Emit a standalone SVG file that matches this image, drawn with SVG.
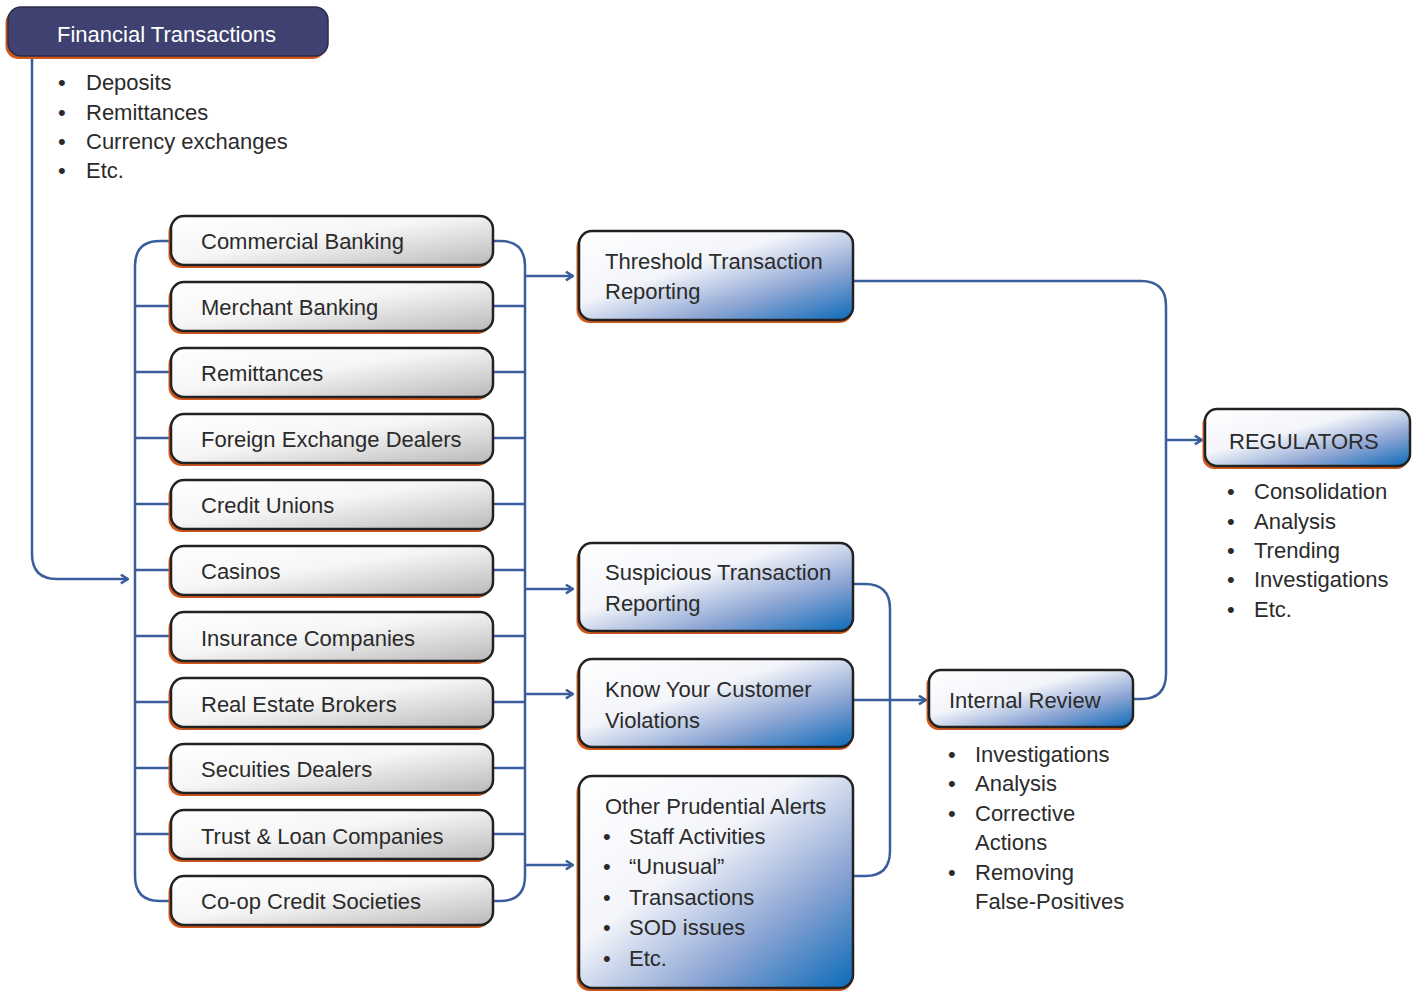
<svg xmlns="http://www.w3.org/2000/svg" width="1416" height="991" viewBox="0 0 1416 991">
<defs>
<linearGradient id="gGray" x1="0" y1="0" x2="1" y2="1">
<stop offset="0" stop-color="#ffffff"/>
<stop offset="0.45" stop-color="#f6f6f6"/>
<stop offset="1" stop-color="#b9b9bb"/>
</linearGradient>
<linearGradient id="gBlue" x1="0" y1="0" x2="1" y2="1">
<stop offset="0" stop-color="#ffffff"/>
<stop offset="0.4" stop-color="#f3f5fa"/>
<stop offset="0.7" stop-color="#8ea6d4"/>
<stop offset="1" stop-color="#0b6ab8"/>
</linearGradient>
<marker id="arr" viewBox="0 0 10 10" refX="9" refY="5" markerWidth="11" markerHeight="11" markerUnits="userSpaceOnUse" orient="auto">
<path d="M2.5,1 L9,5 L2.5,9" fill="none" stroke="#3a5e9c" stroke-width="2.2"/>
</marker>
</defs>
<style>
.sh{fill:#d2581c}
.gb{fill:url(#gGray);stroke:#222;stroke-width:2.5}
.bb{fill:url(#gBlue);stroke:#222;stroke-width:2.5}
.t{font-family:"Liberation Sans",Arial,sans-serif;font-size:22px;fill:#2b2b2b}
.tw{font-family:"Liberation Sans",Arial,sans-serif;font-size:22px;fill:#ffffff}
.ln{fill:none;stroke:#3a5e9c;stroke-width:2.5}
</style>
<rect width="1416" height="991" fill="#ffffff"/>

<g id="connectors">
<path class="ln" d="M32,57 V554 Q32,579 57,579 H128" marker-end="url(#arr)"/>
<path class="ln" d="M171,241 H160 Q135,241 135,266 V876 Q135,901 160,901 H171"/>
<path class="ln" d="M135,306 H171 M135,372 H171 M135,438 H171 M135,504 H171 M135,570 H171 M135,636 H171 M135,702 H171 M135,768 H171 M135,834 H171"/>
<path class="ln" d="M493,241 H500 Q525,241 525,266 V876 Q525,901 500,901 H493"/>
<path class="ln" d="M493,306 H525 M493,372 H525 M493,438 H525 M493,504 H525 M493,570 H525 M493,636 H525 M493,702 H525 M493,768 H525 M493,834 H525"/>
<path class="ln" d="M525,276 H573" marker-end="url(#arr)"/>
<path class="ln" d="M525,589 H573" marker-end="url(#arr)"/>
<path class="ln" d="M525,694 H573" marker-end="url(#arr)"/>
<path class="ln" d="M525,865 H573" marker-end="url(#arr)"/>
<path class="ln" d="M853,281 H1141 Q1166,281 1166,306 V674 Q1166,699 1141,699 H1133"/>
<path class="ln" d="M1166,440 H1202" marker-end="url(#arr)"/>
<path class="ln" d="M853,584 H865 Q890,584 890,609 V851 Q890,876 865,876 H853"/>
<path class="ln" d="M853,700 H926" marker-end="url(#arr)"/>
</g>

<g id="financial-transactions">
<rect class="sh" x="5.5" y="10" width="320" height="49" rx="13"/>
<rect x="8" y="7" width="320" height="49" rx="13" fill="#3f4270" stroke="#2a2c4a" stroke-width="1.5"/>
<text class="tw" x="57" y="42">Financial Transactions</text>
</g>
<g id="ft-list">
<text class="t" x="58" y="90">•</text><text class="t" x="86" y="90">Deposits</text>
<text class="t" x="58" y="120">•</text><text class="t" x="86" y="120">Remittances</text>
<text class="t" x="58" y="149">•</text><text class="t" x="86" y="149">Currency exchanges</text>
<text class="t" x="58" y="178">•</text><text class="t" x="86" y="178">Etc.</text>
</g>

<g id="commercial-banking"><rect class="sh" x="168.5" y="219" width="322" height="49" rx="13"/><rect class="gb" x="171" y="216" width="322" height="49" rx="13"/><text class="t" x="201" y="249">Commercial Banking</text></g>
<g id="merchant-banking"><rect class="sh" x="168.5" y="285" width="322" height="49" rx="13"/><rect class="gb" x="171" y="282" width="322" height="49" rx="13"/><text class="t" x="201" y="315">Merchant Banking</text></g>
<g id="remittances"><rect class="sh" x="168.5" y="351" width="322" height="49" rx="13"/><rect class="gb" x="171" y="348" width="322" height="49" rx="13"/><text class="t" x="201" y="381">Remittances</text></g>
<g id="foreign-exchange"><rect class="sh" x="168.5" y="417" width="322" height="49" rx="13"/><rect class="gb" x="171" y="414" width="322" height="49" rx="13"/><text class="t" x="201" y="447">Foreign Exchange Dealers</text></g>
<g id="credit-unions"><rect class="sh" x="168.5" y="483" width="322" height="49" rx="13"/><rect class="gb" x="171" y="480" width="322" height="49" rx="13"/><text class="t" x="201" y="513">Credit Unions</text></g>
<g id="casinos"><rect class="sh" x="168.5" y="549" width="322" height="49" rx="13"/><rect class="gb" x="171" y="546" width="322" height="49" rx="13"/><text class="t" x="201" y="579">Casinos</text></g>
<g id="insurance"><rect class="sh" x="168.5" y="615" width="322" height="49" rx="13"/><rect class="gb" x="171" y="612" width="322" height="49" rx="13"/><text class="t" x="201" y="646">Insurance Companies</text></g>
<g id="real-estate"><rect class="sh" x="168.5" y="681" width="322" height="49" rx="13"/><rect class="gb" x="171" y="678" width="322" height="49" rx="13"/><text class="t" x="201" y="712">Real Estate Brokers</text></g>
<g id="securities"><rect class="sh" x="168.5" y="747" width="322" height="49" rx="13"/><rect class="gb" x="171" y="744" width="322" height="49" rx="13"/><text class="t" x="201" y="777">Secuities Dealers</text></g>
<g id="trust-loan"><rect class="sh" x="168.5" y="813" width="322" height="49" rx="13"/><rect class="gb" x="171" y="810" width="322" height="49" rx="13"/><text class="t" x="201" y="844">Trust &amp; Loan Companies</text></g>
<g id="coop-credit"><rect class="sh" x="168.5" y="879" width="322" height="49" rx="13"/><rect class="gb" x="171" y="876" width="322" height="49" rx="13"/><text class="t" x="201" y="909">Co-op Credit Societies</text></g>

<g id="threshold"><rect class="sh" x="576.5" y="234" width="276" height="89" rx="13"/><rect class="bb" x="579" y="231" width="274" height="89" rx="13"/><text class="t" x="605" y="269">Threshold Transaction</text><text class="t" x="605" y="299">Reporting</text></g>
<g id="suspicious"><rect class="sh" x="576.5" y="546" width="276" height="88" rx="13"/><rect class="bb" x="579" y="543" width="274" height="88" rx="13"/><text class="t" x="605" y="580">Suspicious Transaction</text><text class="t" x="605" y="611">Reporting</text></g>
<g id="kyc"><rect class="sh" x="576.5" y="662" width="276" height="88" rx="13"/><rect class="bb" x="579" y="659" width="274" height="88" rx="13"/><text class="t" x="605" y="697">Know Your Customer</text><text class="t" x="605" y="728">Violations</text></g>
<g id="other-alerts"><rect class="sh" x="576.5" y="779" width="276" height="212" rx="13"/><rect class="bb" x="579" y="776" width="274" height="212" rx="13"/>
<text class="t" x="605" y="814">Other Prudential Alerts</text>
<text class="t" x="603" y="844">•</text><text class="t" x="629" y="844">Staff Activities</text>
<text class="t" x="603" y="874">•</text><text class="t" x="629" y="874">“Unusual”</text>
<text class="t" x="603" y="905">•</text><text class="t" x="629" y="905">Transactions</text>
<text class="t" x="603" y="935">•</text><text class="t" x="629" y="935">SOD issues</text>
<text class="t" x="603" y="966">•</text><text class="t" x="629" y="966">Etc.</text>
</g>

<g id="internal-review"><rect class="sh" x="926.5" y="673" width="205" height="57" rx="12"/><rect class="bb" x="929" y="670" width="204" height="57" rx="12"/><text class="t" x="949" y="708">Internal Review</text></g>
<g id="ir-list">
<text class="t" x="948" y="762">•</text><text class="t" x="975" y="762">Investigations</text>
<text class="t" x="948" y="791">•</text><text class="t" x="975" y="791">Analysis</text>
<text class="t" x="948" y="821">•</text><text class="t" x="975" y="821">Corrective</text>
<text class="t" x="975" y="850">Actions</text>
<text class="t" x="948" y="880">•</text><text class="t" x="975" y="880">Removing</text>
<text class="t" x="975" y="909">False-Positives</text>
</g>

<g id="regulators"><rect class="sh" x="1202.5" y="412" width="206" height="57" rx="12"/><rect class="bb" x="1205" y="409" width="205" height="57" rx="12"/><text class="t" x="1229" y="449">REGULATORS</text></g>
<g id="reg-list">
<text class="t" x="1227" y="499">•</text><text class="t" x="1254" y="499">Consolidation</text>
<text class="t" x="1227" y="529">•</text><text class="t" x="1254" y="529">Analysis</text>
<text class="t" x="1227" y="558">•</text><text class="t" x="1254" y="558">Trending</text>
<text class="t" x="1227" y="587">•</text><text class="t" x="1254" y="587">Investigations</text>
<text class="t" x="1227" y="617">•</text><text class="t" x="1254" y="617">Etc.</text>
</g>
</svg>
